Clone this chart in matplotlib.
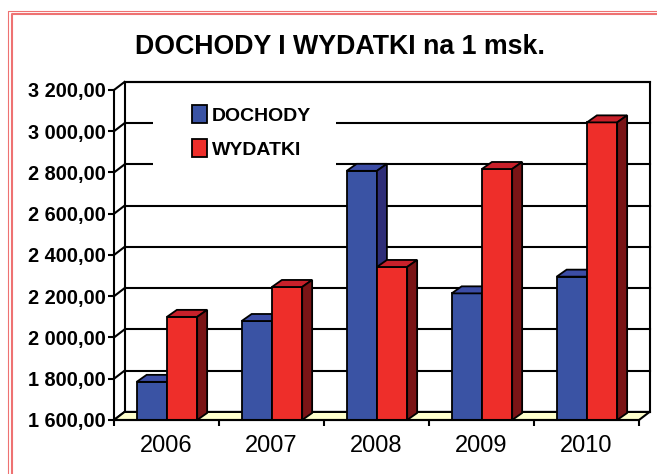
import matplotlib
matplotlib.use('Agg')
import matplotlib.pyplot as plt
from matplotlib.patches import Polygon, Rectangle, Patch
from matplotlib.lines import Line2D

# data
years = ['2006', '2007', '2008', '2009', '2010']
dochody = [1785, 2080, 2808, 2214, 2295]
wydatki = [2100, 2245, 2342, 2817, 3043]
yticks = [1600, 1800, 2000, 2200, 2400, 2600, 2800, 3000, 3200]
series_names = ['DOCHODY', 'WYDATKI']

BLUE = ('#3A53A4', '#3C4DA6', '#2F2E78')   # front, top, side
RED = ('#EE2E2A', '#C8202A', '#7A1416')
FLOOR = '#FFFFCC'
BORDER = '#EE7272'

ymin, ymax = yticks[0], yticks[-1]
DX, DY = 0.10, 39.0        # depth of the walls (data units)
BDX, BDY = 0.095, 34.0     # depth of the bars
OFF, W = 0.216, 0.288      # bar offset / width within a category

fig = plt.figure(figsize=(6.57, 4.74), dpi=100)
ax = fig.add_axes([114 / 657, 1 - 420 / 474, 525 / 657, 330 / 474])
ax.set_xlim(0, len(years))
ax.set_ylim(ymin, ymax)
ax.patch.set_visible(False)
for s in ['top', 'right']:
    ax.spines[s].set_visible(False)
for s in ['left', 'bottom']:
    ax.spines[s].set_linewidth(1.5)
    ax.spines[s].set_zorder(6)

lw = 1.5
n = len(years)
# back wall + gridlines
ax.add_patch(Polygon([(DX, ymin + DY), (n + DX, ymin + DY), (n + DX, ymax + DY), (DX, ymax + DY)],
                     closed=True, facecolor='white', edgecolor='black', lw=lw, clip_on=False, zorder=1))
for v in yticks:
    ax.plot([DX, n + DX], [v + DY, v + DY], color='black', lw=lw, clip_on=False, zorder=1.5)
    ax.plot([0, DX], [v, v + DY], color='black', lw=lw, clip_on=False, zorder=1.5)

# white box behind the legend hides the gridlines
ax.add_patch(Rectangle((153 / 657, 1 - 182 / 474), 183 / 657, 87 / 474, transform=fig.transFigure,
                       facecolor='white', edgecolor='none', clip_on=False, zorder=1.7))

# floor
ax.add_patch(Polygon([(0, ymin), (n, ymin), (n + DX, ymin + DY), (DX, ymin + DY)],
                     closed=True, facecolor=FLOOR, edgecolor='black', lw=lw, clip_on=False, zorder=2))


def bar3d(x0, v, cols, z):
    front, top, side = cols
    ax.add_patch(Rectangle((x0, ymin), W, v - ymin, facecolor=front, edgecolor='black', lw=1.3,
                           clip_on=False, zorder=z))
    ax.add_patch(Polygon([(x0, v), (x0 + W, v), (x0 + W + BDX, v + BDY), (x0 + BDX, v + BDY)],
                         closed=True, facecolor=top, edgecolor='black', lw=1.3, clip_on=False, zorder=z))
    ax.add_patch(Polygon([(x0 + W, ymin), (x0 + W, v), (x0 + W + BDX, v + BDY), (x0 + W + BDX, ymin + BDY)],
                         closed=True, facecolor=side, edgecolor='black', lw=1.3, clip_on=False, zorder=z))


for i in range(n):
    bar3d(i + OFF, dochody[i], BLUE, 3)
    bar3d(i + OFF + W, wydatki[i], RED, 4)

# axes ticks and labels
ax.set_yticks(yticks)
ax.set_yticklabels([f'{v:,.2f}'.replace(',', ' ').replace('.', ',') for v in yticks],
                   fontfamily='Liberation Sans', fontweight='bold', fontsize=14.4)
ax.tick_params(axis='y', length=4, width=lw, pad=2, direction='out')
ax.set_xticks([i + 0.5 for i in range(n)])
ax.set_xticklabels(years, fontfamily='Liberation Sans', fontsize=17)
ax.set_xticks(range(n + 1), minor=True)
ax.tick_params(axis='x', which='major', length=0, pad=11)
ax.tick_params(axis='x', which='minor', length=4, width=lw, direction='out')

fig.text(340 / 657, 1 - 47 / 474, 'DOCHODY I WYDATKI na 1 msk.', ha='center', va='center',
         fontfamily='Liberation Sans', fontweight='bold', fontsize=19.3)

handles = [Patch(facecolor=BLUE[0], edgecolor='black', lw=1.3),
           Patch(facecolor=RED[0], edgecolor='black', lw=1.3)]
leg = ax.legend(handles, series_names, loc='upper left', bbox_to_anchor=(192 / 657, 1 - 105 / 474),
                bbox_transform=fig.transFigure, frameon=False, borderpad=0, borderaxespad=0,
                handlelength=0.78, handleheight=1.05, handletextpad=0.25, labelspacing=0.75,
                prop={'family': ['Liberation Sans Narrow', 'Liberation Sans'], 'weight': 'bold', 'size': 14})
leg.set_zorder(7)

# double red border (cut off at right and bottom)
fig.add_artist(Line2D([8 / 657, 8 / 657, 1.01], [-0.01, 1 - 11 / 474, 1 - 11 / 474],
                      transform=fig.transFigure, color=BORDER, lw=0.8))
fig.add_artist(Line2D([11.5 / 657, 11.5 / 657, 1.01], [-0.01, 1 - 14 / 474, 1 - 14 / 474],
                      transform=fig.transFigure, color=BORDER, lw=1.5))

fig.savefig('out.png', dpi=100)
